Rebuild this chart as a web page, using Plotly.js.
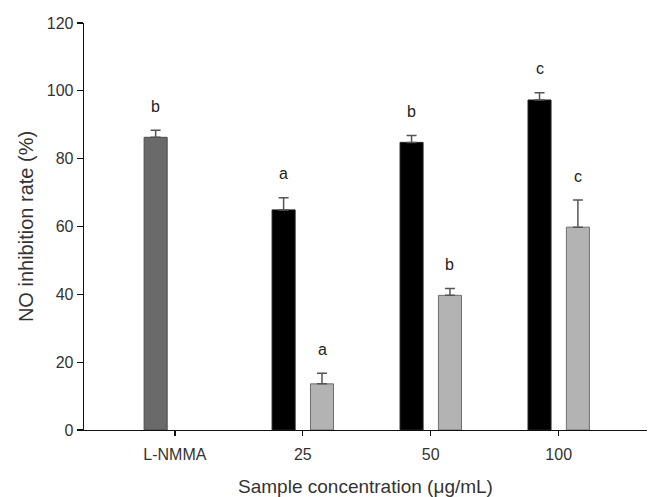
<!DOCTYPE html>
<html>
<head>
<meta charset="utf-8">
<script src="https://cdn.plot.ly/plotly-3.0.1.min.js"></script>
<style>html,body{margin:0;padding:0;background:#fff;}#chart{width:649px;height:497px;}</style>
</head>
<body>
<div id="chart"></div>
<script>
// ---- data ----
var categories = ['L-NMMA', '25', '50', '100'];

var controlCats = ['L-NMMA'];
var controlValues = [86.3];
var controlErr = [2.1];
var controlLetters = ['b'];

var sampleCats = ['25', '50', '100'];
var blackValues = [64.9, 84.8, 97.3];
var blackErr = [3.6, 2.0, 2.1];
var blackLetters = ['a', 'b', 'c'];

var grayValues = [13.6, 39.7, 59.8];
var grayErr = [3.1, 2.0, 8.0];
var grayLetters = ['a', 'b', 'c'];

// ---- styling ----
var BAR_W = 0.18;
var LEFT_OFF = -0.24;
var RIGHT_OFF = 0.06;
var FONT = 'Liberation Sans, Arial, sans-serif';

function zeros(a) { return a.map(function () { return 0; }); }

function barTrace(cats, vals, errs, fill, line, off) {
  return {
    type: 'bar', x: cats, y: vals,
    width: cats.map(function () { return BAR_W; }),
    offset: cats.map(function () { return off; }),
    marker: { color: fill, line: { color: line, width: 1 } },
    error_y: { type: 'data', array: errs, arrayminus: zeros(errs), symmetric: false,
               color: '#555555', thickness: 1.5, width: 5 },
    showlegend: false, hoverinfo: 'skip'
  };
}

var traces = [
  barTrace(controlCats, controlValues, controlErr, '#6a6a6a', '#4a4a4a', LEFT_OFF),
  barTrace(sampleCats, blackValues, blackErr, '#000000', '#222222', LEFT_OFF),
  barTrace(sampleCats, grayValues, grayErr, '#b3b3b3', '#6e6e6e', RIGHT_OFF)
];

var annotations = [];
function addLetters(cats, vals, errs, letters, off) {
  cats.forEach(function (c, i) {
    annotations.push({
      x: categories.indexOf(c) + off + BAR_W / 2, xref: 'x',
      y: vals[i] + errs[i], yref: 'y',
      text: letters[i], showarrow: false,
      yanchor: 'middle', yshift: 24,
      font: { family: FONT, size: 16, color: '#222' }
    });
  });
}
addLetters(controlCats, controlValues, controlErr, controlLetters, LEFT_OFF);
addLetters(sampleCats, blackValues, blackErr, blackLetters, LEFT_OFF);
addLetters(sampleCats, grayValues, grayErr, grayLetters, RIGHT_OFF);

var layout = {
  width: 649, height: 497,
  margin: { l: 84, r: 2, t: 23, b: 67 },
  paper_bgcolor: '#ffffff', plot_bgcolor: '#ffffff',
  barmode: 'overlay',
  font: { family: FONT, size: 16, color: '#333' },
  xaxis: {
    type: 'category', categoryorder: 'array', categoryarray: categories,
    range: [-0.71, 3.69],
    showline: true, linecolor: '#111', linewidth: 1.3,
    ticks: 'outside', ticklen: 5, tickcolor: '#111', tickwidth: 1.3,
    ticklabelstandoff: 4,
    showgrid: false, zeroline: false,
    tickfont: { family: FONT, size: 16, color: '#333' },
    title: { text: 'Sample concentration (μg/mL)', standoff: 19,
             font: { family: FONT, size: 19, color: '#333' } }
  },
  yaxis: {
    range: [0, 120], dtick: 20, tick0: 0,
    showline: true, linecolor: '#111', linewidth: 1.3,
    ticks: 'outside', ticklen: 6, tickcolor: '#111', tickwidth: 1.3,
    showgrid: false, zeroline: false,
    tickfont: { family: FONT, size: 16, color: '#333' },
    title: { text: 'NO inhibition rate (%)', standoff: 7,
             font: { family: FONT, size: 20, color: '#333' } }
  },
  annotations: annotations
};

Plotly.newPlot('chart', traces, layout, { displayModeBar: false, staticPlot: true });
</script>
</body>
</html>
